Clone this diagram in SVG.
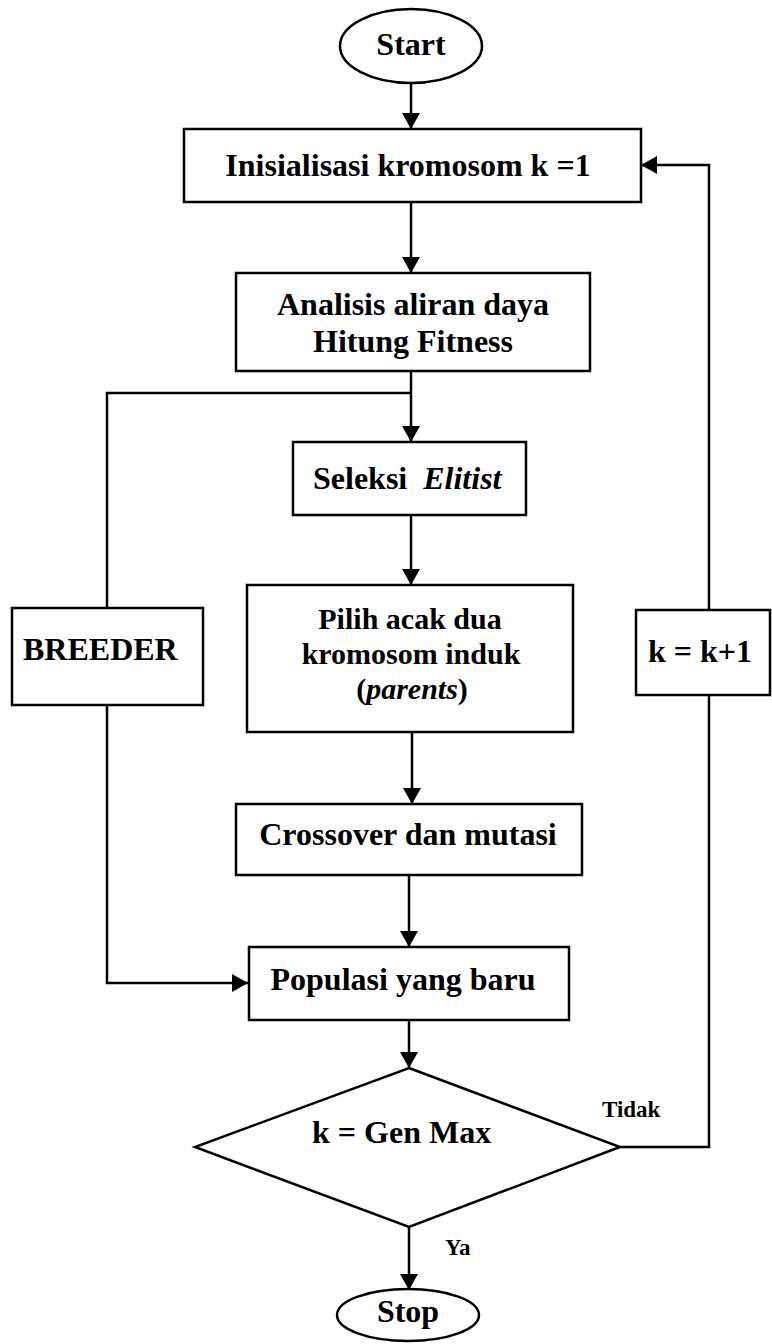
<svg xmlns="http://www.w3.org/2000/svg" width="772" height="1344" viewBox="0 0 772 1344">
<style>
.shape{fill:#fff;stroke:#000;stroke-width:2.5}
.t{font-family:"Liberation Serif","Times New Roman",serif;font-weight:bold;font-size:32px;fill:#000}
.p{font-size:30px}
.s{font-family:"Liberation Serif","Times New Roman",serif;font-weight:bold;font-size:23px;fill:#000}
.c{text-anchor:middle}
.line{fill:none;stroke:#000;stroke-width:2.5}
</style>
<defs>
<marker id="arr" markerUnits="userSpaceOnUse" markerWidth="16" markerHeight="18" refX="16" refY="9" orient="auto">
<path d="M0,0 L16,9 L0,18 z" fill="#000"/>
</marker>
</defs>
<rect width="772" height="1344" fill="#fff"/>
<g id="connectors">
<path class="line" d="M411,83 L411,129" marker-end="url(#arr)"/>
<path class="line" d="M411,202 L411,273" marker-end="url(#arr)"/>
<path class="line" d="M411,371 L411,442" marker-end="url(#arr)"/>
<path class="line" d="M411,515 L411,585" marker-end="url(#arr)"/>
<path class="line" d="M412,732 L412,804" marker-end="url(#arr)"/>
<path class="line" d="M409,875 L409,947" marker-end="url(#arr)"/>
<path class="line" d="M409,1020 L409,1068" marker-end="url(#arr)"/>
<path class="line" d="M409,1227 L409,1290" marker-end="url(#arr)"/>
<path class="line" d="M411,393 L107,393 L107,608"/>
<path class="line" d="M107,705 L107,983 L248,983" marker-end="url(#arr)"/>
<path class="line" d="M620,1147 L709,1147 L709,695"/>
<path class="line" d="M709,610 L709,165 L641,165" marker-end="url(#arr)"/>
</g>
<g id="start">
<ellipse class="shape" cx="411" cy="46" rx="71" ry="37"/>
<text class="t c" x="411" y="55">Start</text>
</g>
<g id="init">
<rect class="shape" x="184" y="129" width="457" height="73"/>
<text class="t c" x="408" y="176">Inisialisasi kromosom k =1</text>
</g>
<g id="analisis">
<rect class="shape" x="236" y="273" width="354" height="98"/>
<text class="t c" x="413" y="315">Analisis aliran daya</text>
<text class="t c" x="413" y="352">Hitung Fitness</text>
</g>
<g id="seleksi">
<rect class="shape" x="293" y="442" width="233" height="73"/>
<text class="t" x="313" y="489">Seleksi<tspan dx="16" font-style="italic">Elitist</tspan></text>
</g>
<g id="pilih">
<rect class="shape" x="247" y="585" width="326" height="147"/>
<text class="t p c" x="410" y="629">Pilih acak dua</text>
<text class="t p c" x="411" y="664">kromosom induk</text>
<text class="t p c" x="412" y="699">(<tspan font-style="italic">parents</tspan>)</text>
</g>
<g id="crossover">
<rect class="shape" x="236" y="804" width="346" height="71"/>
<text class="t c" x="408" y="845">Crossover dan mutasi</text>
</g>
<g id="populasi">
<rect class="shape" x="249" y="947" width="320" height="73"/>
<text class="t c" x="403" y="990">Populasi yang baru</text>
</g>
<g id="breeder">
<rect class="shape" x="12" y="608" width="191" height="97"/>
<text class="t" x="23" y="660">BREEDER</text>
</g>
<g id="increment">
<rect class="shape" x="636" y="610" width="134" height="85"/>
<text class="t" x="648" y="662">k = k+1</text>
</g>
<g id="decision">
<polygon class="shape" points="409,1068 620,1147 409,1227 195,1147"/>
<text class="t" x="312" y="1143">k = Gen Max</text>
</g>
<g id="labels">
<text class="s" x="602" y="1117">Tidak</text>
<text class="s" x="445" y="1255">Ya</text>
</g>
<g id="stop">
<ellipse class="shape" cx="408" cy="1315" rx="71" ry="26"/>
<text class="t c" x="408" y="1322">Stop</text>
</g>
</svg>
